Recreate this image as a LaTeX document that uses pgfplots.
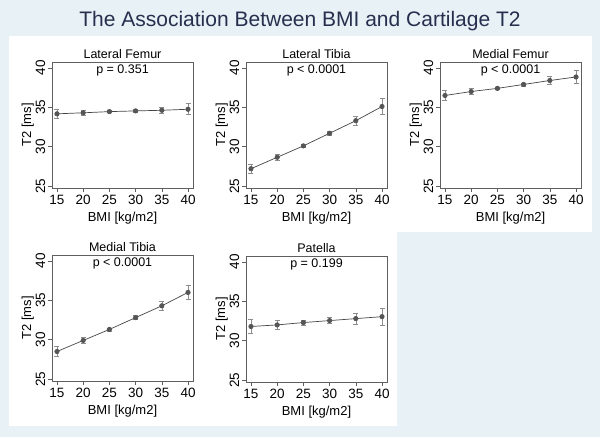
\documentclass[border=0pt]{standalone}
\usepackage{fontspec}
\setmainfont{Liberation Sans}
\usepackage{pgfplots}
\usepackage{pgfplotstable}
\pgfplotsset{compat=1.18}
\definecolor{bgblue}{RGB}{232,241,246}
\definecolor{titleblue}{RGB}{38,48,78}
\definecolor{boxgray}{RGB}{95,95,95}
\definecolor{ptgray}{RGB}{85,85,85}
\definecolor{linegray}{RGB}{70,70,70}
\definecolor{errgray}{RGB}{140,140,140}

\pgfplotstableread{
x y e
15 34.17 0.55
20 34.30 0.35
25 34.45 0.15
30 34.54 0.15
35 34.62 0.40
40 34.75 0.70
}\latfem
\pgfplotstableread{
x y e
15 27.2 0.60
20 28.65 0.40
25 30.1 0.20
30 31.7 0.30
35 33.3 0.60
40 35.1 1.00
}\lattib
\pgfplotstableread{
x y e
15 36.5 0.60
20 37.0 0.40
25 37.4 0.15
30 37.9 0.20
35 38.4 0.50
40 38.85 0.80
}\medfem
\pgfplotstableread{
x y e
15 28.5 0.60
20 29.9 0.40
25 31.3 0.20
30 32.8 0.25
35 34.3 0.60
40 36.0 0.90
}\medtib
\pgfplotstableread{
x y e
15 31.8 0.90
20 32.0 0.60
25 32.3 0.30
30 32.55 0.40
35 32.8 0.70
40 33.05 1.10
}\patella

\pgfplotsset{
 panel/.style={
  scale only axis, width=141pt, height=126pt,
  anchor=north west,
  xmin=14.05, xmax=40.95, ymin=24.75, ymax=40.75,
  xtick={15,20,...,40}, ytick={25,30,35,40},
  tick align=outside, tick pos=left, major tick length=4pt,
  axis line style={boxgray, line width=0.6pt},
  every tick/.style={boxgray, line width=0.6pt},
  /pgf/number format/assume math mode=true,
  yticklabel style={rotate=90, anchor=south, inner sep=2.5pt, font=\fontsize{13.5}{13.5}\selectfont},
  xticklabel style={font=\fontsize{13.5}{13.5}\selectfont},
  xlabel={BMI [kg/m2]}, ylabel={T2 [ms]},
  label style={font=\fontsize{13}{13}\selectfont},
  xlabel style={yshift=0pt},
  ylabel style={yshift=-4pt},
  title style={font=\fontsize{12.5}{13}\selectfont, yshift=-6pt},
  axis background/.style={fill=white},
 },
 series/.style={linegray, line width=0.7pt, mark=*, mark size=2.2pt,
  mark options={fill=ptgray, draw=ptgray},
  error bars/.cd, y dir=both, y explicit,
  error bar style={errgray, line width=0.6pt},
  error mark options={errgray, mark size=2.5pt, line width=0.6pt, rotate=90}},
}
\newcommand{\pval}[1]{\node[anchor=north, font=\fontsize{12.5}{13}\selectfont, inner sep=1pt] at (axis description cs:0.5,1) [yshift=-1.5pt] {#1};}

\begin{document}
\begin{tikzpicture}
\fill[bgblue] (0pt,0pt) rectangle (600pt,-437pt);
\fill[white] (9pt,-36pt) -- (592pt,-36pt) -- (592pt,-232pt) -- (397pt,-232pt) -- (397pt,-426pt) -- (9pt,-426pt) -- cycle;
\node[font=\fontsize{21}{24}\selectfont, text=titleblue] at (300pt,-21pt) {The Association Between BMI and Cartilage T2};

\begin{axis}[panel, at={(52pt,-62pt)}, title={Lateral Femur}]
\addplot[series] table[x=x, y=y, y error=e] {\latfem};
\pval{p = 0.351}
\end{axis}

\begin{axis}[panel, at={(246pt,-62pt)}, title={Lateral Tibia}]
\addplot[series] table[x=x, y=y, y error=e] {\lattib};
\pval{p < 0.0001}
\end{axis}

\begin{axis}[panel, at={(440pt,-62pt)}, title={Medial Femur}]
\addplot[series] table[x=x, y=y, y error=e] {\medfem};
\pval{p < 0.0001}
\end{axis}

\begin{axis}[panel, at={(52pt,-255pt)}, title={Medial Tibia}]
\addplot[series] table[x=x, y=y, y error=e] {\medtib};
\pval{p < 0.0001}
\end{axis}

\begin{axis}[panel, at={(246pt,-256pt)}, title={Patella}]
\addplot[series] table[x=x, y=y, y error=e] {\patella};
\pval{p = 0.199}
\end{axis}
\end{tikzpicture}
\end{document}
